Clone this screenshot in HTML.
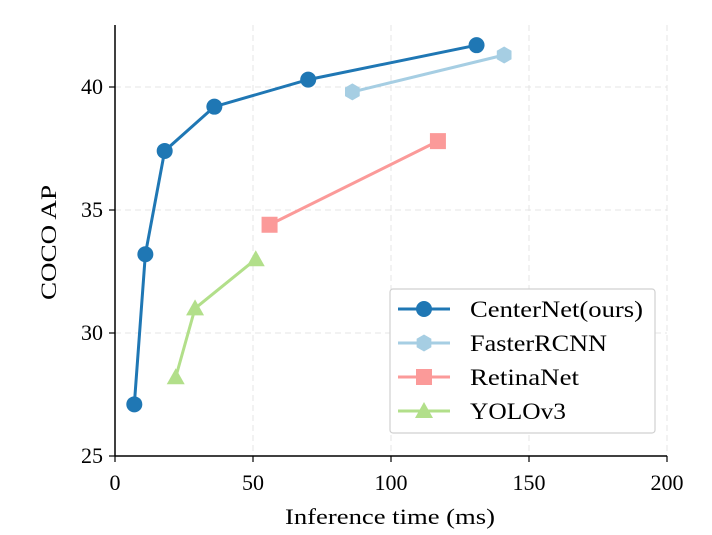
<!DOCTYPE html>
<html><head><meta charset="utf-8"><style>
body{margin:0;background:#fff}
svg{display:block;font-family:"Liberation Serif","DejaVu Serif",serif}
</style></head><body>
<svg id="chart" width="712" height="535" viewBox="0 0 712 535"></svg>
<script>
const xTicks=[0,50,100,150,200];
const yTicks=[25,30,35,40];
const seriesNames=["CenterNet(ours)","FasterRCNN","RetinaNet","YOLOv3"];
const centerX=[7,11,18,36,70,131];
const centerY=[27.1,33.2,37.4,39.2,40.3,41.7];
const fasterX=[86,141];
const fasterY=[39.8,41.3];
const retinaX=[56,117];
const retinaY=[34.4,37.8];
const yoloX=[22,29,51];
const yoloY=[28.2,31.0,33.0];

const NS="http://www.w3.org/2000/svg";
const svg=document.getElementById('chart');
const L=115,R=667,T=25,B=456;
const xs=v=>L+(v-0)/(200-0)*(R-L);
const ys=v=>B-(v-25)*((456-87)/15);
function el(tag,attrs,parent){const e=document.createElementNS(NS,tag);for(const k in attrs)e.setAttribute(k,attrs[k]);(parent||svg).appendChild(e);return e;}
xTicks.forEach(t=>{if(t===0)return;const g=el('line',{x1:xs(t),x2:xs(t),y1:T,y2:B,stroke:'#e4e4e4','stroke-dasharray':'6,4','stroke-width':1});

});
yTicks.forEach(t=>{if(t===25)return;const g=el('line',{x1:L,x2:R,y1:ys(t),y2:ys(t),stroke:'#e4e4e4','stroke-dasharray':'6,4','stroke-width':1});

});
const xa=el('line',{x1:L,x2:R,y1:B,y2:B,stroke:'#000','stroke-width':1.5});


const ya=el('line',{x1:L,x2:L,y1:T,y2:B,stroke:'#000','stroke-width':1.5});


xTicks.forEach(t=>{el('line',{x1:xs(t),x2:xs(t),y1:B,y2:B+6,stroke:'#000','stroke-width':1.2});
const tx=el('text',{x:xs(t),y:B+34,'text-anchor':'middle','font-size':22});tx.textContent=t;

});
yTicks.forEach(t=>{el('line',{x1:L-6,x2:L,y1:ys(t),y2:ys(t),stroke:'#000','stroke-width':1.2});
const tx=el('text',{x:L-12,y:ys(t)+7,'text-anchor':'end','font-size':22});tx.textContent=t;

});
const xt=el('text',{x:285,y:524,'font-size':22,textLength:210,lengthAdjust:'spacingAndGlyphs'});xt.textContent='Inference time (ms)';


const yt=el('text',{x:0,y:0,'font-size':22,textLength:115,lengthAdjust:'spacingAndGlyphs',transform:`translate(56,300) rotate(-90)`});yt.textContent='COCO AP';



function marker(kind,cx,cy,color,parent){
  if(kind==='circle')return el('circle',{cx,cy,r:8,fill:color},parent);
  if(kind==='hex'){const r=8.5,p=[];for(let i=0;i<6;i++){const a=Math.PI/6+i*Math.PI/3;p.push((cx+r*Math.cos(a))+','+(cy+r*Math.sin(a)));}return el('polygon',{points:p.join(' '),fill:color},parent);}
  if(kind==='square')return el('rect',{x:cx-8,y:cy-8,width:16,height:16,fill:color},parent);
  return el('polygon',{points:`${cx},${cy-9} ${cx+9},${cy+7} ${cx-9},${cy+7}`,fill:color},parent);
}
const series=[[centerX,centerY,'#1f77b4','circle','centernet'],[fasterX,fasterY,'#a6cee3','hex','fasterrcnn'],[retinaX,retinaY,'#fb9a99','square','retinanet'],[yoloX,yoloY,'#b2df8a','tri','yolov3']];
series.forEach(([X,Y,c,k,n])=>{
  const g=el('g',{});
  
  
  el('polyline',{points:X.map((x,i)=>xs(x)+','+ys(Y[i])).join(' '),fill:'none',stroke:c,'stroke-width':3},g);
  X.forEach((x,i)=>{const m=marker(k,xs(x),ys(Y[i]),c,g);
  
  });
});
const legendWidths=[173,137,109,96];
const lg=el('g',{});


el('rect',{x:390,y:289,width:265,height:144,rx:3,fill:'#fff',stroke:'#d0d0d0','stroke-width':1.2},lg);
series.forEach(([X,Y,c,k,n],i)=>{
  const y=309+i*34;
  const e=el('g',{},lg);
  
  
  el('line',{x1:398,x2:450,y1:y,y2:y,stroke:c,'stroke-width':3},e);
  marker(k,424,y,c,e);
  const t=el('text',{x:470,y:y+8,'font-size':23,textLength:legendWidths[i],lengthAdjust:'spacingAndGlyphs'},e);t.textContent=seriesNames[i];
});
</script>
</body></html>
